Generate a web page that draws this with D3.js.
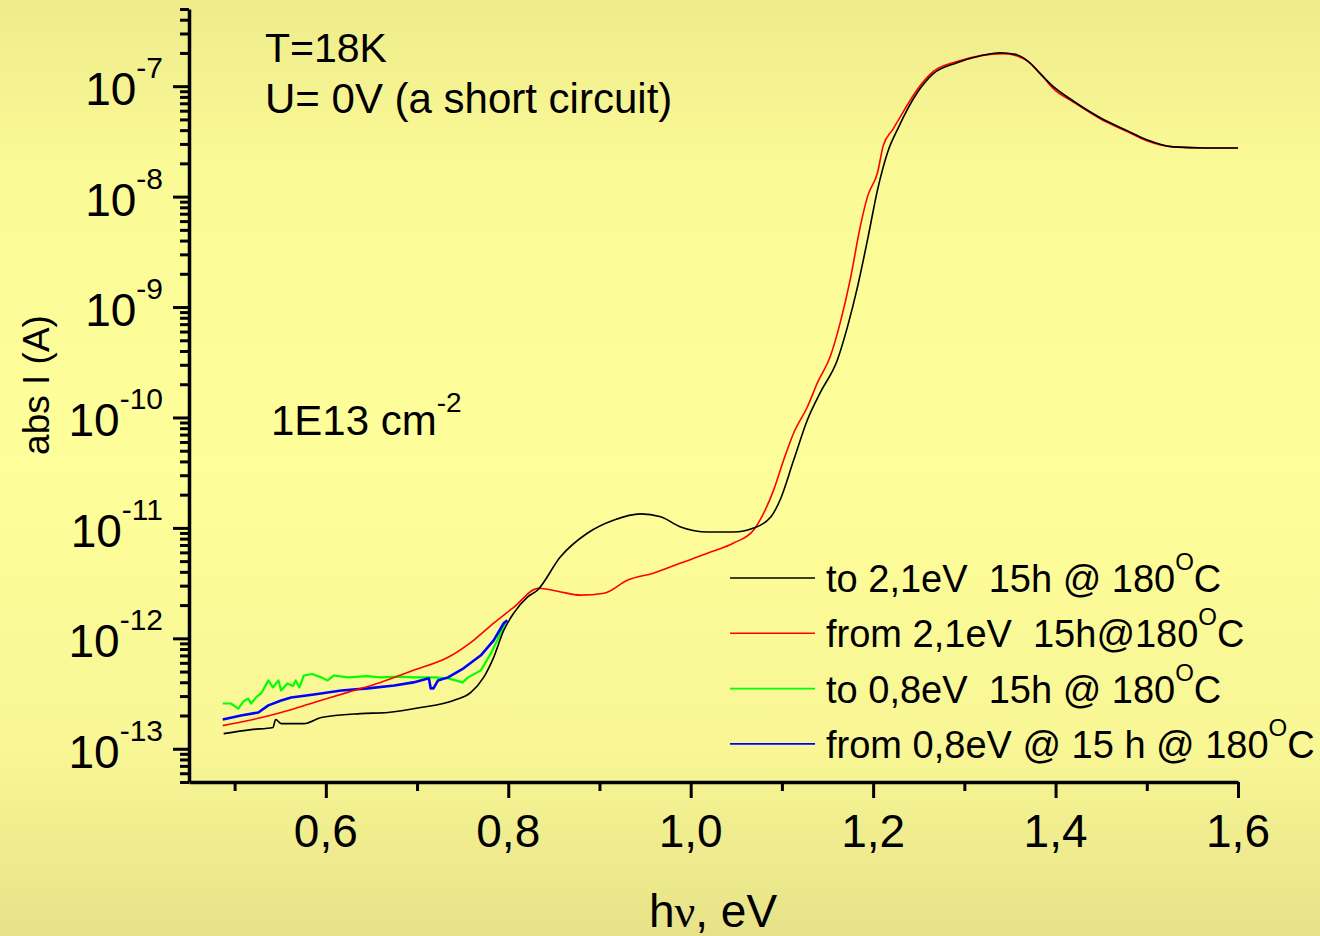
<!DOCTYPE html>
<html>
<head>
<meta charset="utf-8">
<script src="https://cdn.jsdelivr.net/npm/d3@7"></script>
<style>
  html, body { margin: 0; padding: 0; background: #fbf997; }
  svg { display: block; }
  text { font-family: "Liberation Sans", Arial, sans-serif; fill: #000; white-space: pre; }
</style>
</head>
<body>
<svg id="chart" width="1320" height="936"></svg>
<script>
// Photocurrent spectra, abs I (A) versus photon energy hν (eV), T = 18 K, U = 0 V

// "to 2,1eV 15h @ 180°C"
const toHighX = [0.488, 0.518, 0.542, 0.545, 0.551, 0.576, 0.595, 0.638, 0.668, 0.704, 0.740, 0.759, 0.773, 0.784, 0.795, 0.806, 0.821, 0.832, 0.857, 0.887, 0.916, 0.945, 0.967, 0.989, 1.019, 1.047, 1.069, 1.088, 1.098, 1.113, 1.128, 1.142, 1.161, 1.172, 1.183, 1.194, 1.205, 1.216, 1.227, 1.249, 1.266, 1.292, 1.318, 1.339, 1.356, 1.370, 1.383, 1.397, 1.419, 1.449, 1.479, 1.500, 1.529, 1.566, 1.600];
const toHighI = [1.37e-13, 1.49e-13, 1.56e-13, 1.84e-13, 1.69e-13, 1.69e-13, 1.92e-13, 2.08e-13, 2.13e-13, 2.36e-13, 2.74e-13, 3.24e-13, 4.43e-13, 6.73e-13, 1.18e-12, 1.69e-12, 2.36e-12, 2.73e-12, 5.45e-12, 8.99e-12, 1.18e-11, 1.34e-11, 1.26e-11, 1.02e-11, 9.18e-12, 9.18e-12, 9.98e-12, 1.26e-11, 1.79e-11, 4.14e-11, 9.55e-11, 1.68e-10, 3.35e-10, 6.68e-10, 1.54e-9, 4.12e-9, 1.17e-8, 2.54e-8, 4.11e-8, 8.91e-8, 1.30e-7, 1.63e-7, 1.89e-7, 2.01e-7, 1.94e-7, 1.68e-7, 1.30e-7, 1.00e-7, 7.38e-8, 5.18e-8, 3.94e-8, 3.27e-8, 2.82e-8, 2.76e-8, 2.76e-8];

// "from 2,1eV 15h@180°C"
const fromHighX = [0.487, 0.515, 0.551, 0.587, 0.624, 0.660, 0.696, 0.734, 0.762, 0.784, 0.806, 0.833, 0.854, 0.879, 0.905, 0.931, 0.959, 0.989, 1.019, 1.047, 1.069, 1.080, 1.091, 1.102, 1.113, 1.128, 1.139, 1.153, 1.164, 1.175, 1.186, 1.194, 1.205, 1.211, 1.222, 1.233, 1.249, 1.266, 1.292, 1.318, 1.343, 1.358, 1.372, 1.385, 1.397, 1.419, 1.449, 1.479, 1.500, 1.529, 1.566, 1.600];
const fromHighI = [1.62e-13, 1.80e-13, 2.13e-13, 2.62e-13, 3.24e-13, 3.99e-13, 5.13e-13, 6.73e-13, 9.60e-13, 1.37e-12, 1.91e-12, 2.84e-12, 2.67e-12, 2.46e-12, 2.56e-12, 3.37e-12, 3.89e-12, 4.80e-12, 5.92e-12, 7.29e-12, 9.57e-12, 1.36e-11, 2.21e-11, 4.14e-11, 7.28e-11, 1.25e-10, 2.07e-10, 3.56e-10, 7.26e-10, 1.79e-9, 5.41e-9, 1.01e-8, 1.67e-8, 2.88e-8, 4.11e-8, 5.86e-8, 9.49e-8, 1.36e-7, 1.67e-7, 1.89e-7, 1.97e-7, 1.88e-7, 1.62e-7, 1.26e-7, 9.60e-8, 7.23e-8, 5.07e-8, 3.86e-8, 3.20e-8, 2.82e-8, 2.76e-8, 2.76e-8];

// "to 0,8eV 15h @ 180°C"
const toLowX = [0.487, 0.496, 0.504, 0.510, 0.515, 0.518, 0.524, 0.529, 0.537, 0.542, 0.548, 0.551, 0.558, 0.564, 0.567, 0.571, 0.576, 0.585, 0.595, 0.602, 0.609, 0.624, 0.645, 0.660, 0.680, 0.696, 0.718, 0.734, 0.750, 0.756, 0.770, 0.781, 0.788, 0.794, 0.797];
const toLowI = [2.57e-13, 2.57e-13, 2.31e-13, 2.70e-13, 2.85e-13, 2.57e-13, 2.95e-13, 3.17e-13, 4.16e-13, 3.59e-13, 4.16e-13, 3.37e-13, 3.90e-13, 3.70e-13, 4.16e-13, 3.59e-13, 4.61e-13, 4.75e-13, 4.43e-13, 4.16e-13, 4.61e-13, 4.43e-13, 4.55e-13, 4.43e-13, 4.50e-13, 4.43e-13, 4.43e-13, 4.34e-13, 3.99e-13, 4.43e-13, 5.13e-13, 7.31e-13, 9.60e-13, 1.26e-12, 1.40e-12];

// "from 0,8eV @ 15 h @ 180°C"
const fromLowX = [0.487, 0.507, 0.526, 0.537, 0.551, 0.562, 0.587, 0.617, 0.646, 0.675, 0.696, 0.713, 0.715, 0.718, 0.723, 0.734, 0.751, 0.770, 0.784, 0.795, 0.799];
const fromLowI = [1.84e-13, 2.00e-13, 2.13e-13, 2.47e-13, 2.74e-13, 2.91e-13, 3.10e-13, 3.37e-13, 3.52e-13, 3.74e-13, 3.99e-13, 4.34e-13, 3.52e-13, 3.52e-13, 4.16e-13, 4.43e-13, 5.35e-13, 7.02e-13, 9.60e-13, 1.37e-12, 1.46e-12];

const legendLabels = [
  ["to 2,1eV  15h @ 180", "C"],
  ["from 2,1eV  15h@180", "C"],
  ["to 0,8eV  15h @ 180", "C"],
  ["from 0,8eV @ 15 h @ 180", "C"]
];
const seriesColors = ["#000000", "#ff0000", "#00ff00", "#0000ff"];

const xMajorTicks = [0.6, 0.8, 1.0, 1.2, 1.4, 1.6];
const xMinorTicks = [0.5, 0.7, 0.9, 1.1, 1.3, 1.5];
const yDecades = [-13, -12, -11, -10, -9, -8, -7];

const svg = d3.select("#chart");
const W = 1320, H = 936;

// background wash
const defs = svg.append("defs");
const grad = defs.append("linearGradient").attr("id", "bg").attr("x1", 0).attr("y1", 0).attr("x2", 0).attr("y2", 1);
[[0, "#efeb8b"], [0.18, "#fafa96"], [0.5, "#fefe9a"], [0.8, "#f8f695"], [1, "#e7e288"]]
  .forEach(([o, c]) => grad.append("stop").attr("offset", o).attr("stop-color", c));
svg.append("rect").attr("width", W).attr("height", H).attr("fill", "url(#bg)");

const x = d3.scaleLinear().domain([0.45, 1.6]).range([189, 1238]);
const y = d3.scaleLog().domain([5e-14, 5e-7]).range([782, 9]);

// curves
const series = [
  { xs: toHighX, ys: toHighI, w: 1.6, curve: d3.curveMonotoneX },
  { xs: fromHighX, ys: fromHighI, w: 1.6, curve: d3.curveMonotoneX },
  { xs: toLowX, ys: toLowI, w: 2.2, curve: d3.curveLinear },
  { xs: fromLowX, ys: fromLowI, w: 2.6, curve: d3.curveLinear }
];
const plot = svg.append("g");
// green/blue first, then red, then black on top where they overlap
[2, 3, 1, 0].forEach(i => {
  const s = series[i];
  const pts = s.xs.map((v, k) => [v, s.ys[k]]);
  const line = d3.line().x(d => x(d[0])).y(d => y(d[1])).curve(s.curve);
  plot.append("path").datum(pts)
    .attr("d", line)
    .attr("fill", "none")
    .attr("stroke", seriesColors[i])
    .attr("stroke-width", s.w)
    .attr("stroke-linejoin", "round");
});

// y axis: major and minor ticks
const yMinor = [];
for (let e = -14; e <= -7; e++) {
  for (let m = 2; m <= 9; m++) {
    const v = m * Math.pow(10, e);
    if (v >= 5e-14 * 0.999 && v <= 5e-7 * 1.001) yMinor.push(v);
  }
}
const yMajorVals = yDecades.map(e => Math.pow(10, e));

const gy = svg.append("g").attr("transform", "translate(189,0)");
gy.call(d3.axisLeft(y).tickValues(yMinor).tickSize(9).tickSizeOuter(0).tickFormat(""));
const gy2 = svg.append("g").attr("transform", "translate(189,0)");
gy2.call(d3.axisLeft(y).tickValues(yMajorVals).tickSize(16).tickSizeOuter(0).tickFormat(""));
gy2.select(".domain").remove();
[gy, gy2].forEach(g => {
  g.selectAll("line").attr("stroke", "#000").attr("stroke-width", 3);
  g.select(".domain").attr("stroke", "#000").attr("stroke-width", 3.5);
});

yDecades.forEach(e => {
  const t = svg.append("text")
    .attr("x", 163).attr("y", y(Math.pow(10, e)) + 19)
    .attr("text-anchor", "end")
    .style("font-size", "46px");
  t.append("tspan").text("10");
  t.append("tspan").attr("dy", -27).style("font-size", "30px").text("-" + Math.abs(e));
});

// x axis
const gx = svg.append("g").attr("transform", "translate(0,782)");
gx.call(d3.axisBottom(x).tickValues(xMinorTicks).tickSize(9).tickSizeOuter(0).tickFormat(""));
const gx2 = svg.append("g").attr("transform", "translate(0,782)");
gx2.call(d3.axisBottom(x).tickValues(xMajorTicks).tickSize(16).tickSizeOuter(0).tickFormat(""));
gx2.select(".domain").remove();
[gx, gx2].forEach(g => {
  g.selectAll("line").attr("stroke", "#000").attr("stroke-width", 3);
  g.select(".domain").attr("stroke", "#000").attr("stroke-width", 3.5);
});
xMajorTicks.forEach(v => {
  svg.append("text")
    .attr("x", x(v)).attr("y", 847)
    .attr("text-anchor", "middle")
    .style("font-size", "46px")
    .text(v.toFixed(1).replace(".", ","));
});

// axis titles
const xt = svg.append("text").attr("x", 713).attr("y", 927).attr("text-anchor", "middle").style("font-size", "46px");
xt.append("tspan").text("h");
xt.append("tspan").style("font-family", "'Liberation Serif', 'DejaVu Serif', serif").text("ν");
xt.append("tspan").text(", eV");

svg.append("text")
  .attr("transform", "translate(49,385) rotate(-90)")
  .attr("text-anchor", "middle")
  .style("font-size", "37px")
  .text("abs I (A)");

// annotations
svg.append("text").attr("x", 265).attr("y", 62).style("font-size", "41px").text("T=18K");
svg.append("text").attr("x", 265).attr("y", 113).style("font-size", "42px").text("U= 0V (a short circuit)");
const fl = svg.append("text").attr("x", 271).attr("y", 435).style("font-size", "42px");
fl.append("tspan").text("1E13 cm");
fl.append("tspan").attr("dy", -23).style("font-size", "28px").text("-2");

// legend
legendLabels.forEach((lab, i) => {
  const ly = 578 + i * 55.3;
  svg.append("line")
    .attr("x1", 730).attr("x2", 815).attr("y1", ly).attr("y2", ly)
    .attr("stroke", seriesColors[i]).attr("stroke-width", 1.6);
  const t = svg.append("text").attr("x", 826).attr("y", ly + 14).style("font-size", "38px");
  t.append("tspan").text(lab[0]);
  t.append("tspan").attr("dy", -22).style("font-size", "24px").text("O");
  t.append("tspan").attr("dy", 22).text(lab[1]);
});
</script>
</body>
</html>
